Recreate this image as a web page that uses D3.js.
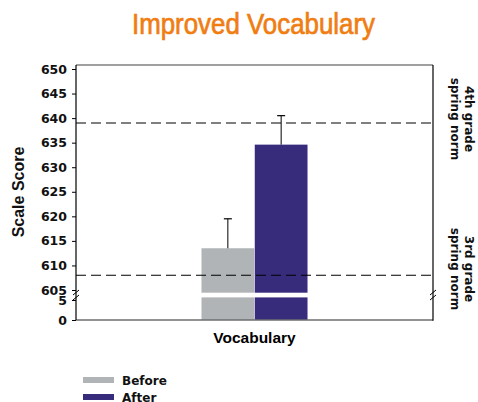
<!DOCTYPE html>
<html>
<head>
<meta charset="utf-8">
<script src="https://cdn.jsdelivr.net/npm/d3@7"></script>
<style>
  html, body { margin: 0; padding: 0; background: #fff; }
  svg { display: block; font-family: Arial, "Liberation Sans", Helvetica, sans-serif; }
</style>
</head>
<body>
<svg id="chart" width="478" height="402"></svg>
<script>
// data
const categories = ['Vocabulary'];
const seriesNames = ['Before', 'After'];
const seriesColors = ['#b1b4b6', '#372b7c'];
const scores = [613.5, 634.6];
const errorTops = [619.5, 640.5];
const norms = [
  { label: ['4th grade', 'spring norm'], value: 639 },
  { label: ['3rd grade', 'spring norm'], value: 608 },
];
const upperTicks = [605, 610, 615, 620, 625, 630, 635, 640, 645, 650];
const lowerTicks = [0, 5];

const wideFont = '"DejaVu Sans", Verdana, sans-serif';
const svg = d3.select('#chart');

const plotLeft = 76;
const plotRight = 433;
const plotTop = 65;
const plotBottom = 320;
const breakY = 295;

// two y scales: the upper 605-650 segment and the broken-off 0-5 stub
const yUpper = d3.scaleLinear().domain([605, 650]).range([290, 69]);
const yLower = d3.scaleLinear().domain([0, 5]).range([plotBottom, 300]);

const x = d3.scaleBand()
    .domain(categories)
    .range([plotLeft, plotRight])
    .paddingInner(0.542)
    .paddingOuter(0.542);

const xSub = d3.scaleBand()
    .domain(seriesNames)
    .range([0, x.bandwidth()])
    .paddingInner(0.01);

// title
svg.append('text')
    .attr('x', 132)
    .attr('y', 33.5)
    .attr('textLength', 243)
    .attr('lengthAdjust', 'spacingAndGlyphs')
    .attr('font-size', 29)
    .attr('fill', '#f07d12')
    .attr('stroke', '#f07d12')
    .attr('stroke-width', 0.7)
    .text('Improved Vocabulary');

// frame top
svg.append('line')
    .attr('x1', plotLeft).attr('x2', plotRight)
    .attr('y1', plotTop).attr('y2', plotTop)
    .attr('stroke', '#808080').attr('stroke-width', 1.5);

// bars (upper piece + lower stub)
const bars = svg.append('g');
categories.forEach(cat => {
    seriesNames.forEach((name, i) => {
        const bx = x(cat) + xSub(name);
        bars.append('rect')
            .attr('x', bx)
            .attr('y', yUpper(scores[i]))
            .attr('width', xSub.bandwidth())
            .attr('height', yUpper(604.45) - yUpper(scores[i]))
            .attr('fill', seriesColors[i]);
        bars.append('rect')
            .attr('x', bx)
            .attr('y', yLower(5.65))
            .attr('width', xSub.bandwidth())
            .attr('height', yLower(0) - yLower(5.65))
            .attr('fill', seriesColors[i]);

        const cx = bx + xSub.bandwidth() / 2;
        bars.append('line')
            .attr('x1', cx).attr('x2', cx)
            .attr('y1', yUpper(scores[i])).attr('y2', yUpper(errorTops[i]))
            .attr('stroke', '#000').attr('stroke-width', 1);
        bars.append('line')
            .attr('x1', cx - 4).attr('x2', cx + 4)
            .attr('y1', yUpper(errorTops[i])).attr('y2', yUpper(errorTops[i]))
            .attr('stroke', '#000').attr('stroke-width', 1.2);
    });
});

// norm lines
svg.append('g').selectAll('line')
    .data(norms)
    .join('line')
    .attr('x1', plotLeft).attr('x2', plotRight)
    .attr('y1', d => yUpper(d.value)).attr('y2', d => yUpper(d.value))
    .attr('stroke', '#000')
    .attr('stroke-width', 1.2)
    .attr('stroke-dasharray', '10,5');

svg.append('g').selectAll('text')
    .data(norms)
    .join('text')
    .attr('transform', d => `translate(465,${d.value > 620 ? 119 : 269}) rotate(90)`)
    .attr('text-anchor', 'middle')
    .attr('font-family', wideFont)
    .attr('font-size', 12)
    .attr('font-weight', 700)
    .attr('fill', '#111')
    .selectAll('tspan')
    .data(d => d.label)
    .join('tspan')
    .attr('x', 0)
    .attr('dy', (d, i) => i === 0 ? 0 : 14)
    .text(d => d);

// bottom frame line
svg.append('line')
    .attr('x1', plotLeft).attr('x2', plotRight)
    .attr('y1', plotBottom).attr('y2', plotBottom)
    .attr('stroke', '#6e6e6e').attr('stroke-width', 1.5);

// left axis: two pieces
const axisUpper = svg.append('g')
    .attr('transform', `translate(${plotLeft},0)`)
    .call(d3.axisLeft(yUpper).tickValues(upperTicks).tickSize(4).tickPadding(5).tickFormat(d3.format('d')));
const axisLower = svg.append('g')
    .attr('transform', `translate(${plotLeft},0)`)
    .call(d3.axisLeft(yLower).tickValues(lowerTicks).tickSize(4).tickPadding(5).tickFormat(d3.format('d')));

[axisUpper, axisLower].forEach(g => {
    g.select('.domain').remove();
    g.selectAll('.tick line').attr('stroke', '#000');
    g.selectAll('.tick text')
        .attr('font-size', 12.5)
        .attr('font-weight', 700)
        .attr('fill', '#111')
        .attr('font-family', wideFont);
});

svg.append('line')
    .attr('x1', plotLeft).attr('x2', plotLeft)
    .attr('y1', plotTop).attr('y2', plotBottom)
    .attr('stroke', '#000').attr('stroke-width', 1.2);
svg.append('line')
    .attr('x1', plotRight).attr('x2', plotRight)
    .attr('y1', plotTop).attr('y2', plotBottom + 0.7)
    .attr('stroke', '#000').attr('stroke-width', 1.2);

// break marks on both axes
[plotLeft, plotRight].forEach(ax => {
    [-2.5, 2.5].forEach(off => {
        svg.append('line')
            .attr('x1', ax - 3).attr('y1', breakY + off + 2.5)
            .attr('x2', ax + 3).attr('y2', breakY + off - 2.5)
            .attr('stroke', '#000').attr('stroke-width', 1);
    });
});

// axis titles
svg.append('text')
    .attr('transform', `translate(24,192) rotate(-90)`)
    .attr('text-anchor', 'middle')
    .attr('font-size', 16)
    .attr('font-weight', 700)
    .attr('fill', '#111')
    .text('Scale Score');

svg.append('text')
    .attr('x', x(categories[0]) + x.bandwidth() / 2)
    .attr('y', 343)
    .attr('text-anchor', 'middle')
    .attr('font-size', 15.5)
    .attr('font-weight', 700)
    .attr('fill', '#000')
    .text(categories[0]);

// legend
const legend = svg.append('g').attr('transform', 'translate(83,377)');
seriesNames.forEach((name, i) => {
    legend.append('rect')
        .attr('x', 0).attr('y', i * 17)
        .attr('width', 31).attr('height', 6)
        .attr('fill', seriesColors[i]);
    legend.append('text')
        .attr('x', 39).attr('y', i * 17 + 8)
        .attr('font-family', wideFont)
        .attr('font-size', 12)
        .attr('font-weight', 700)
        .attr('fill', '#111')
        .text(name);
});
</script>
</body>
</html>
